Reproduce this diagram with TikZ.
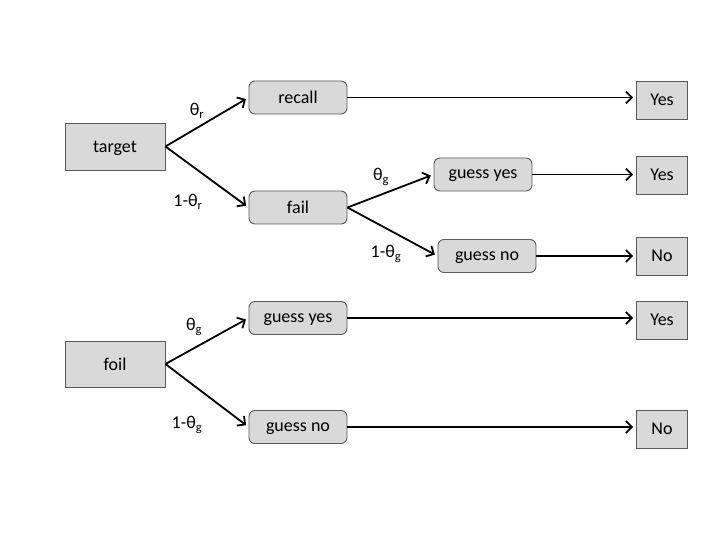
\documentclass[tikz,border=0pt]{standalone}
\usepackage{fontspec}
\setmainfont{Carlito}
\usetikzlibrary{arrows.meta}

\begin{document}
\begin{tikzpicture}[x=1pt,y=-1pt,font=\fontsize{18}{21.6}\selectfont]
\par
\tikzstyle{item}=[draw=black!65,fill=black!15,line width=0.9pt,minimum height=33pt,minimum width=98pt,inner sep=0pt,text depth=0pt]
\tikzstyle{state}=[item,rounded corners=6pt]
\tikzstyle{resp}=[item,minimum width=51pt,minimum height=38pt]
\tikzstyle{estun}=[-{Straight Barb[length=6pt,width=12pt]},line width=1.8pt,shorten >=3pt]
\useasboundingbox (0,0) rectangle (720,540);
\par
% target tree
\node[item,minimum height=47pt,minimum width=100pt] (target) at (115,146.5) {target};
\node[state] (recall) at (298,97.5) {recall};
\node[state] (fail) at (298,207.5) {fail};
\node[state] (gyes) at (483,174.5) {guess yes};
\node[state] (gno) at (487,256) {guess no};
\node[resp] (yes1) at (662,100) {Yes};
\node[resp] (yes2) at (662,175) {Yes};
\node[resp] (no1) at (662,256) {No};
\draw[estun] (target.east) -- (recall.west) ;
\draw[estun] (target.east) -- (fail.west) ;
\draw[estun] (fail.east) -- (gyes.west) ;
\draw[estun] (fail.east) -- (gno.west) ;
\draw[estun] (recall.east) -- (yes1.west|-recall.east) ;
\draw[estun] (gyes.east) -- (yes2.west|-gyes.east) ;
\draw[estun] (gno.east) -- (no1.west|-gno.east) ;
\node at (197,111) {θ\textsubscript{r}} ;
\node at (188,202) {1-θ\textsubscript{r}} ;
\node at (381,177) {θ\textsubscript{g}} ;
\node at (386,254) {1-θ\textsubscript{g}} ;
\par
% foil tree
\node[item,minimum height=46pt,minimum width=100pt] (foil) at (115,364) {foil};
\node[state] (fyes) at (298,318) {guess yes};
\node[state] (fno) at (298,427) {guess no};
\node[resp] (yes3) at (662,320) {Yes};
\node[resp] (no2) at (662,429) {No};
\draw[estun] (foil.east) -- (fyes.west) ;
\draw[estun] (foil.east) -- (fno.west) ;
\draw[estun] (fyes.east) -- (yes3.west|-fyes.east) ;
\draw[estun] (fno.east) -- (no2.west|-fno.east) ;
\node at (194,327) {θ\textsubscript{g}} ;
\node at (187,425) {1-θ\textsubscript{g}} ;
\par
\end{tikzpicture}
\end{document}
